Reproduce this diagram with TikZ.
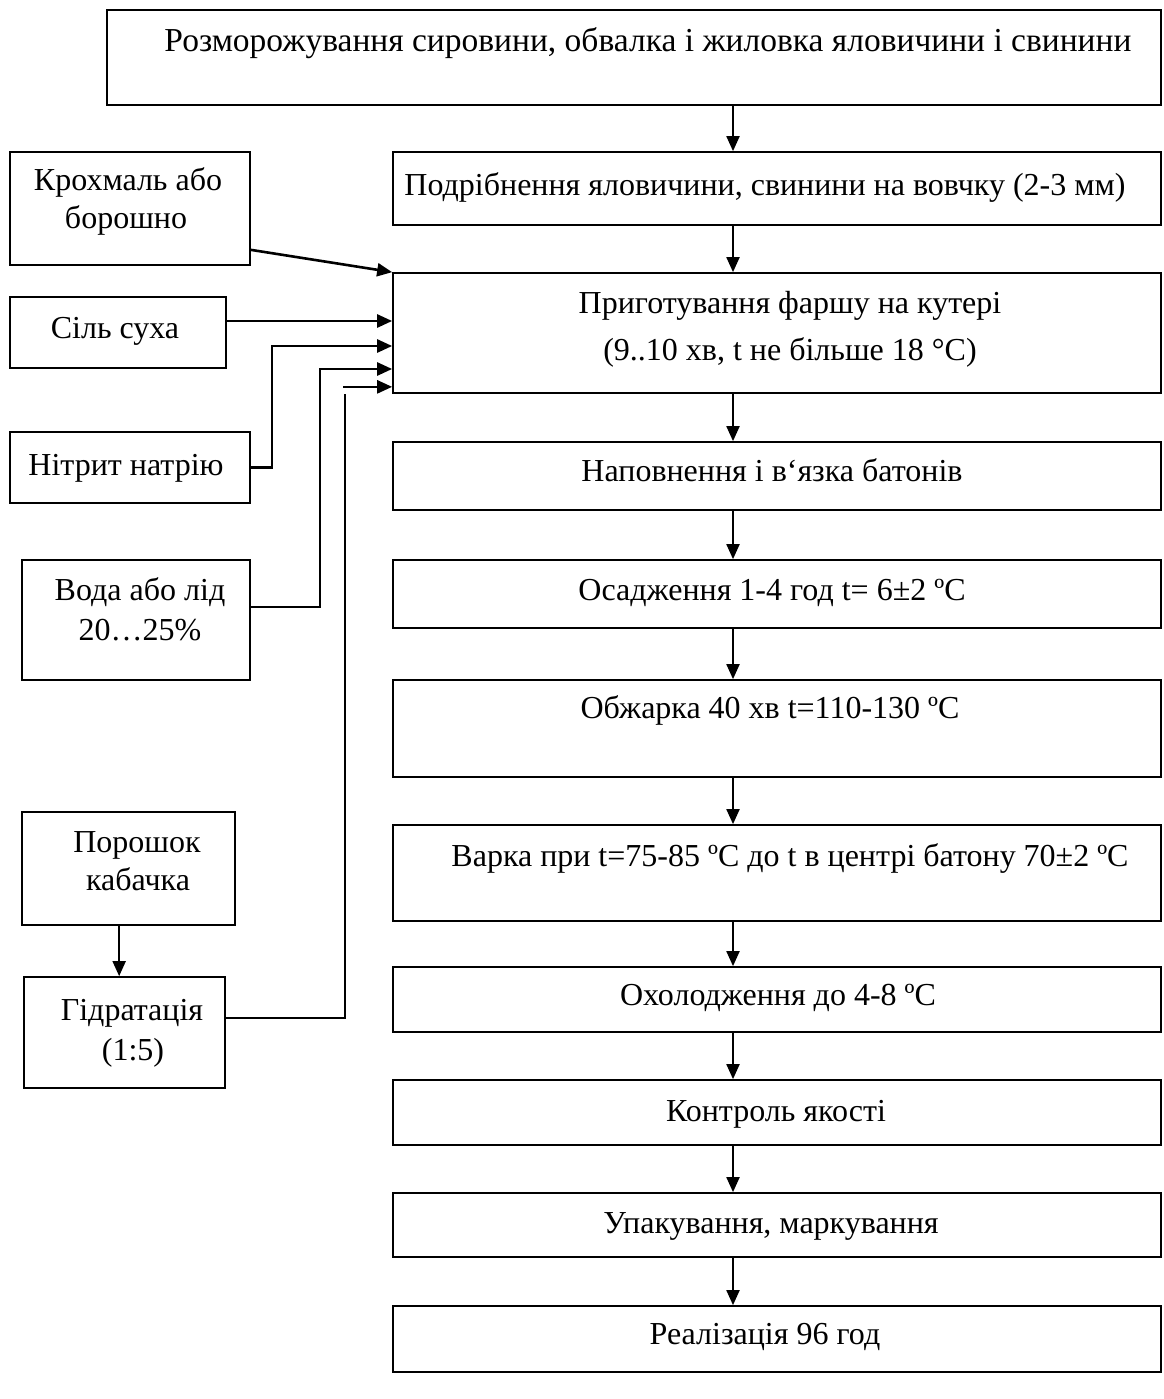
\documentclass[tikz,border=0pt]{standalone}
\usepackage{fontspec}
\setmainfont{Liberation Serif}
\usetikzlibrary{arrows.meta,calc}
\begin{document}
\begin{tikzpicture}[x=1pt,y=-1pt,
 box/.style={draw, line width=1.7pt, inner sep=0pt},
 txt/.style={font=\fontsize{32}{38}\selectfont, inner sep=0pt, anchor=base},
 arr/.style={line width=1.9pt, -{Triangle[length=15pt,width=13pt]}},
 feed/.style={line width=2.6pt, -{Triangle[length=15pt,width=13pt]}},
 ln/.style={line width=2.6pt}]
\useasboundingbox (0,0) rectangle (1163,1399);
% main column boxes
\node[box, minimum width=1054pt, minimum height=95pt] (b1) at (634,57.5) {};
\node[box, minimum width=768pt, minimum height=73pt] (b2) at (777,188.5) {};
\node[box, minimum width=768pt, minimum height=120pt] (b3) at (777,333) {};
\node[box, minimum width=768pt, minimum height=68pt] (b4) at (777,476) {};
\node[box, minimum width=768pt, minimum height=68pt] (b5) at (777,594) {};
\node[box, minimum width=768pt, minimum height=97pt] (b6) at (777,728.5) {};
\node[box, minimum width=768pt, minimum height=96pt] (b7) at (777,873) {};
\node[box, minimum width=768pt, minimum height=65pt] (b8) at (777,999.5) {};
\node[box, minimum width=768pt, minimum height=65pt] (b9) at (777,1112.5) {};
\node[box, minimum width=768pt, minimum height=64pt] (b10) at (777,1225) {};
\node[box, minimum width=768pt, minimum height=66pt] (b11) at (777,1339) {};
% main texts
\node[txt, font=\fontsize{33.5}{38}\selectfont] (t1) at (648,52) {Розморожування сировини, обвалка і жиловка яловичини і свинини};
\node[txt] (t2) at (765,196) {Подрібнення яловичини, свинини на вовчку (2-3 мм)};
\node[txt] (t3a) at (790,313) {Приготування фаршу на кутері};
\node[txt] (t3b) at (790,360) {(9..10 хв, t не більше 18 °С)};
\node[txt] (t4) at (772,481) {Наповнення і в‘язка батонів};
\node[txt] (t5) at (772,600) {Осадження 1-4 год t= 6±2 ºС};
\node[txt] (t6) at (770,718) {Обжарка 40 хв t=110-130 ºС};
\node[txt] (t7) at (790,866) {Варка при t=75-85 ºС до t в центрі батону 70±2 ºС};
\node[txt] (t8) at (778,1005) {Охолодження до 4-8 ºС};
\node[txt] (t9) at (776,1121) {Контроль якості};
\node[txt] (t10) at (771,1233) {Упакування, маркування};
\node[txt] (t11) at (765,1344) {Реалізація 96 год};
% left boxes
\node[box, minimum width=240pt, minimum height=113pt] (k1) at (130,208.5) {};
\node[box, minimum width=216pt, minimum height=71pt] (k2) at (118,332.5) {};
\node[box, minimum width=240pt, minimum height=71pt] (k3) at (130,467.5) {};
\node[box, minimum width=228pt, minimum height=120pt] (k4) at (136,620) {};
\node[box, minimum width=213pt, minimum height=113pt] (k5) at (128.5,868.5) {};
\node[box, minimum width=201pt, minimum height=111pt] (k6) at (124.5,1032.5) {};
% left texts
\node[txt] (s1a) at (128,190) {Крохмаль або};
\node[txt] (s1b) at (126,228) {борошно};
\node[txt] (s2) at (115,338) {Сіль суха};
\node[txt] (s3) at (126,475) {Нітрит натрію};
\node[txt] (s4a) at (140,600) {Вода або лід};
\node[txt] (s4b) at (140,640) {20…25\%};
\node[txt] (s5a) at (137,852) {Порошок};
\node[txt] (s5b) at (138,890) {кабачка};
\node[txt] (s6a) at (132,1020) {Гідратація};
\node[txt] (s6b) at (133,1060) {(1:5)};
% main arrows
\coordinate (ax) at (733,0);
\foreach \a/\b in {b1/b2,b2/b3,b3/b4,b4/b5,b5/b6,b6/b7,b7/b8,b8/b9,b9/b10,b10/b11}
  \draw[arr] (\a.south -| ax) -- (\b.north -| ax);
% feeds
\draw[feed] ($(k1.south east)+(0,-16)$) -- (b3.north west);
\draw[feed] ($(k2.east)+(0,-11.5)$) -- ($(b3.west)+(0,-12)$);
\draw[feed] (k3.east) -| ($(b3.west)+(-120,13)$) -- ($(b3.west)+(0,13)$);
\draw[feed] ($(k4.east)+(0,-13)$) -| ($(b3.west)+(-72,36)$) -- ($(b3.west)+(0,36)$);
\draw[ln] ($(k6.east)+(0,-14.5)$) -| ($(b3.south west)+(-47,0)$);
\coordinate (g) at ($(b3.south west)+(-49,-7)$);
\draw[feed] (g) -- ($(b3.south west)+(0,-7)$);
\draw[arr] ($(k5.south west)+(98,0)$) -- ($(k6.north west)+(96,0)$);
\end{tikzpicture}
\end{document}
